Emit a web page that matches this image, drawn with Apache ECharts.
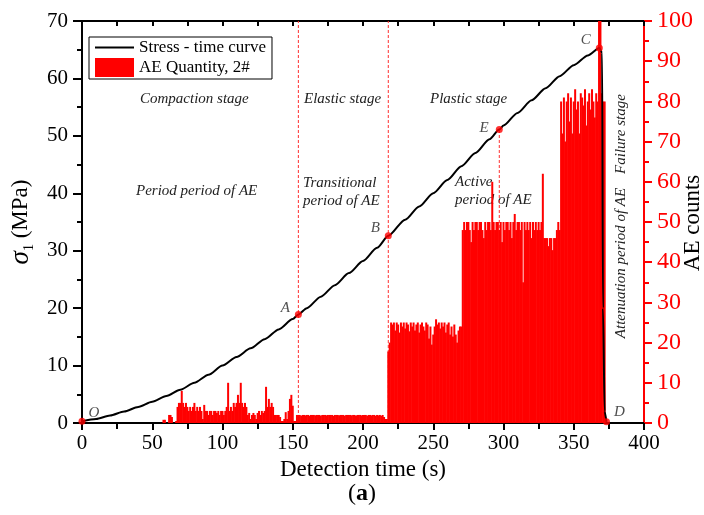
<!DOCTYPE html>
<html><head><meta charset="utf-8">
<script src="https://cdn.jsdelivr.net/npm/echarts@6/dist/echarts.min.js"></script>
<style>html,body{margin:0;padding:0;background:#fff}#c{width:704px;height:515px}</style>
</head><body><div id="c"></div>
<script>
// ---- data ----
const stressTime  = [0, 10, 20, 30, 40, 50, 60, 70, 80, 90, 100, 110, 120, 130, 140, 150, 154, 160, 170, 180, 190, 200, 210, 218, 230, 240, 250, 260, 270, 280, 290, 297, 300, 310, 320, 330, 340, 350, 360, 368.2, 370.2, 370.8, 372, 373.3];
const stressValue = [0.3, 0.7, 1.3, 2.0, 2.8, 3.7, 4.7, 5.8, 7.0, 8.4, 10.0, 11.5, 13.0, 14.6, 16.3, 18.1, 18.9, 20.0, 22.0, 24.0, 26.1, 28.2, 30.5, 32.6, 35.4, 37.7, 40.0, 42.3, 44.7, 47.0, 49.4, 51.1, 51.8, 54.0, 56.2, 58.3, 60.4, 62.3, 64.0, 65.3, 64.5, 20, 2, 0.2];

const aeStartTime = 58; // first second with an AE bar, one bar per second
const aeCounts = [
  0.8, 0.8, 0, 0, 2, 2, 1.5, 0, 0, 0.5,
  4, 5, 5, 8, 5, 4, 5, 4, 3, 4,
  3, 4, 5, 3, 4, 3, 4, 3, 1, 4.5,
  3, 3, 2, 3, 3, 2, 3, 3, 2.5, 3,
  2, 3, 3, 2, 3, 4, 10, 3, 4, 3,
  5, 4, 5, 7, 5, 10, 5, 4, 5, 4,
  2, 2.5, 1, 2, 2.5, 2, 1, 2.5, 3, 2,
  3, 2.5, 3, 9, 4, 6, 4, 5, 4, 2,
  2, 2, 2, 1.5, 0.5, 0.5, 1, 2.7, 1, 3,
  6, 7, 4.3, 0.5, 0.5, 2,
  2, 2, 1.8, 2, 2, 1.9, 2, 2, 1.8, 2,
  2, 2, 1.9, 2, 2, 2, 1.8, 2, 2, 2,
  1.9, 2, 2, 2, 2, 1.8, 2, 2, 2, 1.9,
  2, 2, 2, 1.8, 2, 2, 2, 2, 1.9, 2,
  2, 1.8, 2, 2, 2, 1.9, 2, 2, 2, 1.8,
  2, 2, 1.9, 2, 2, 1.8, 2, 1.9, 2, 1.8,
  2, 1.5, 1, 1,
  17.8, 20, 25,
  24.5, 25, 23, 25, 24.5, 22.5, 25, 24, 25, 23.5,
  25, 24.5, 22.8, 25, 24, 25, 23, 24.5, 25, 22.5,
  24.5, 25, 24, 23, 25, 24.5, 21, 24, 19.5, 22,
  24, 25.8, 24.5, 25, 23.5, 25, 24, 25, 22.5, 24.5,
  25, 22, 24, 21.5, 24.5, 22, 20, 23, 24, 24,
  48, 50, 48, 50, 50, 48, 45, 50, 48, 50,
  50, 48, 50, 50, 48, 46, 50, 48, 50, 50,
  48, 60, 50, 48, 50, 50, 48, 50, 45, 50,
  48, 50, 50, 48, 50, 46, 50, 52, 48, 50,
  50, 48, 50, 35, 50, 48, 50, 48, 50, 46,
  50, 48, 50, 48, 50, 48, 50, 62, 46, 46,
  46, 44, 46, 46, 43, 46, 46, 48, 50, 48,
  80, 72, 81, 70, 80, 82, 75, 81, 72, 80,
  83, 78, 80, 72, 82, 81, 79, 83, 74, 80,
  82, 78, 83, 80, 76, 82, 80,
  100, 100, 82, 80, 80
];

const keyNames  = ['O', 'A', 'B', 'E', 'C', 'D'];
const keyTime   = [0, 154, 218, 297, 368.2, 373.3];
const keyStress = [0.3, 18.9, 32.6, 51.1, 65.3, 0.2];
const fullDividerNames = ['A', 'B'];   // dashed lines across the whole plot
const partDividerNames = ['E'];        // dashed line from the axis up to the point

const xMin = 0, xMax = 400, xStep = 50;
const sMin = 0, sMax = 70, sStep = 10;
const aeMin = 0, aeMax = 100, aeStep = 10;

// ---- chart ----
const serif = '"Liberation Serif", "Times New Roman", serif';
const chart = echarts.init(document.getElementById('c'), null, {renderer: 'canvas'});

const dividerSeries = [];
keyNames.forEach((n, i) => {
  const full = fullDividerNames.includes(n), part = partDividerNames.includes(n);
  if (!full && !part) return;
  dividerSeries.push({
    type: 'line', xAxisIndex: 0, yAxisIndex: 0, silent: true, z: 1,
    symbol: 'none', animation: false,
    lineStyle: {color: '#ff3030', width: 1, type: [3, 2]},
    data: [[keyTime[i], sMin], [keyTime[i], full ? sMax : keyStress[i]]]
  });
});

const labelPos = {
  O: {position: 'right', offset: [-2, -8]},
  A: {position: 'left', offset: [0, -6]},
  B: {position: 'left', offset: [0, -8]},
  E: {position: 'left', offset: [-2, -1]},
  C: {position: 'left', offset: [0, -8]},
  D: {position: 'right', offset: [-1, -10]}
};

const option = {
  animation: false,
  backgroundColor: '#fff',
  grid: {left: 82, right: 60, top: 21, bottom: 92, containLabel: false, outerBoundsMode: 'none'},
  legend: {
    left: 89, top: 37, orient: 'vertical',
    padding: [2, 6, 2, 6], itemGap: 2, itemWidth: 39, itemHeight: 19,
    borderColor: '#000', borderWidth: 1, backgroundColor: '#fff',
    textStyle: {fontFamily: serif, fontSize: 17, color: '#000'},
    data: [
      {name: 'Stress - time curve', icon: 'path://M0,0L39,0L39,2L0,2Z', itemStyle: {color: '#000'}},
      {name: 'AE Quantity, 2#', icon: 'rect'}
    ]
  },
  xAxis: [{
    type: 'value', min: xMin, max: xMax, interval: xStep, position: 'bottom',
    axisLine: {show: true, onZero: false, lineStyle: {color: '#000', width: 2}},
    axisTick: {show: true, inside: false, length: 7, lineStyle: {color: '#000', width: 2}},
    minorTick: {show: true, splitNumber: 2, length: 6, lineStyle: {color: '#000', width: 2}},
    splitLine: {show: false},
    axisLabel: {color: '#000', fontFamily: serif, fontSize: 21, margin: 10},
    name: 'Detection time (s)', nameLocation: 'middle', nameGap: 35,
    nameTextStyle: {color: '#000', fontFamily: serif, fontSize: 23}
  }, {
    type: 'value', min: xMin, max: xMax, interval: xStep / 2, position: 'top',
    axisLine: {show: true, onZero: false, lineStyle: {color: '#000', width: 2}},
    axisTick: {show: true, inside: true, length: 5, lineStyle: {color: '#000', width: 2}},
    splitLine: {show: false}, axisLabel: {show: false}
  }],
  yAxis: [{
    type: 'value', min: sMin, max: sMax, interval: sStep, position: 'left',
    axisLine: {show: true, onZero: false, lineStyle: {color: '#000', width: 2}},
    axisTick: {show: true, inside: false, length: 9, lineStyle: {color: '#000', width: 2}},
    minorTick: {show: true, splitNumber: 2, length: 5, lineStyle: {color: '#000', width: 2}},
    splitLine: {show: false},
    axisLabel: {color: '#000', fontFamily: serif, fontSize: 21, margin: 14},
    name: '{i|σ}{s|1}{n| (MPa)}', nameLocation: 'middle', nameGap: 40, nameRotate: 90,
    nameTextStyle: {
      color: '#000', fontFamily: serif, fontSize: 23,
      rich: {
        i: {fontFamily: serif, fontStyle: 'italic', fontSize: 27, lineHeight: 30, color: '#000'},
        s: {fontFamily: serif, fontSize: 14, lineHeight: 22, verticalAlign: 'bottom', color: '#000'},
        n: {fontFamily: serif, fontSize: 23, lineHeight: 30, color: '#000'}
      }
    }
  }, {
    type: 'value', min: aeMin, max: aeMax, interval: aeStep, position: 'right',
    axisLine: {show: true, onZero: false, lineStyle: {color: '#ff0000', width: 2}},
    axisTick: {show: true, inside: false, length: 8, lineStyle: {color: '#ff0000', width: 2}},
    minorTick: {show: true, splitNumber: 2, length: 5, lineStyle: {color: '#ff0000', width: 2}},
    splitLine: {show: false},
    axisLabel: {color: '#ff0000', fontFamily: serif, fontSize: 24, margin: 13}
  }],
  series: [
    ...dividerSeries,
    {
      name: 'AE Quantity, 2#', type: 'bar', xAxisIndex: 0, yAxisIndex: 1, z: 3,
      barWidth: 2, itemStyle: {color: '#ff0000'}, silent: true,
      data: aeCounts.map((v, i) => [aeStartTime + i, v])
    },
    {
      name: 'Stress - time curve', type: 'line', xAxisIndex: 0, yAxisIndex: 0, z: 5,
      symbol: 'none', smooth: 0.25, smoothMonotone: 'x',
      lineStyle: {color: '#000', width: 2}, itemStyle: {color: '#000'},
      data: stressTime.map((t, i) => [t, stressValue[i]])
    },
    {
      type: 'scatter', xAxisIndex: 0, yAxisIndex: 0, z: 6, symbolSize: 7,
      itemStyle: {color: '#ff0000'}, silent: true,
      data: keyNames.map((n, i) => ({
        value: [keyTime[i], keyStress[i]], name: n,
        label: Object.assign({show: true, formatter: n, fontFamily: serif, fontStyle: 'italic', fontSize: 15, color: '#222'}, labelPos[n])
      }))
    }
  ],
  graphic: [
    {type: 'text', left: 140, top: 92, style: {text: 'Compaction stage', font: 'italic 15px ' + serif, fill: '#222'}},
    {type: 'text', left: 304, top: 92, style: {text: 'Elastic stage', font: 'italic 15px ' + serif, fill: '#222'}},
    {type: 'text', left: 430, top: 92, style: {text: 'Plastic stage', font: 'italic 15px ' + serif, fill: '#222'}},
    {type: 'text', left: 136, top: 184, style: {text: 'Period period of AE', font: 'italic 15px ' + serif, fill: '#222'}},
    {type: 'text', left: 303, top: 174, style: {text: 'Transitional\nperiod of AE', font: 'italic 15px ' + serif, fill: '#222', lineHeight: 18}},
    {type: 'text', left: 455, top: 173, style: {text: 'Active\nperiod of AE', font: 'italic 15px ' + serif, fill: '#222', lineHeight: 18}},
    {type: 'text', x: 621, y: 134, rotation: Math.PI / 2, style: {text: 'Failure stage', font: 'italic 15px ' + serif, fill: '#222', align: 'center', verticalAlign: 'middle'}},
    {type: 'text', x: 621, y: 263, rotation: Math.PI / 2, style: {text: 'Attenuation period of AE', font: 'italic 15px ' + serif, fill: '#222', align: 'center', verticalAlign: 'middle'}},
    {type: 'text', x: 693, y: 223, rotation: Math.PI / 2, style: {text: 'AE counts', font: '23px ' + serif, fill: '#000', align: 'center', verticalAlign: 'middle'}},
    {type: 'text', x: 362, y: 494, style: {text: '{p|(}{b|a}{p|)}', align: 'center', verticalAlign: 'middle',
      rich: {p: {fontFamily: serif, fontSize: 24, fill: '#000'}, b: {fontFamily: serif, fontSize: 24, fontWeight: 'bold', fill: '#000'}}}}
  ]
};
chart.setOption(option);
</script></body></html>
